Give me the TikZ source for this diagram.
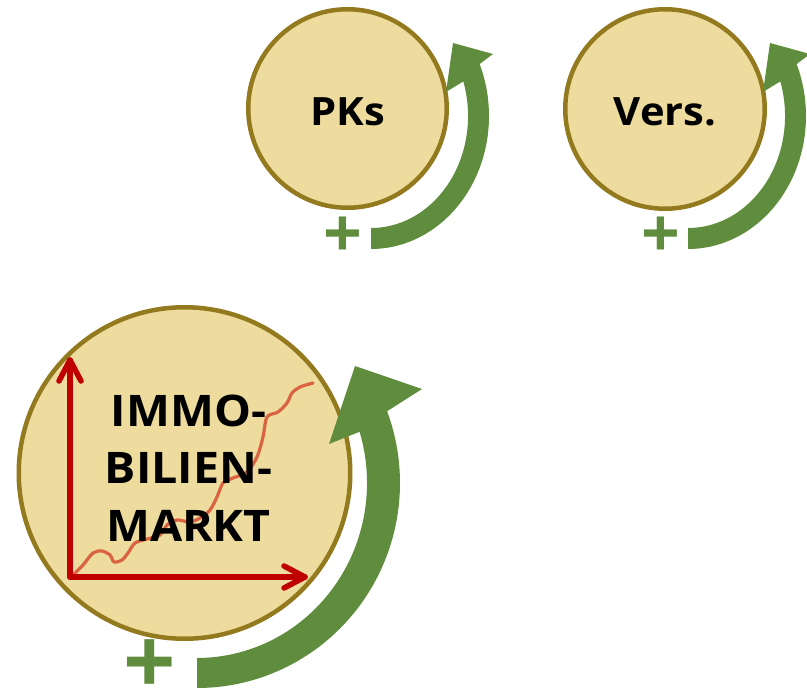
\documentclass[tikz,border=0pt]{standalone}
\usepackage{fontspec}
\setmainfont{Open Sans}
\newfontfamily\labelfont{Open Sans}[FakeStretch=1.07]
\definecolor{cfill}{HTML}{EEDC9E}
\definecolor{cline}{HTML}{937A1F}
\definecolor{cgreen}{HTML}{5F8D3D}
\definecolor{cred}{HTML}{C00000}
\definecolor{ccurve}{HTML}{DA6341}
\tikzset{
  bubble/.style={circle, draw=cline, fill=cfill, line width=4.5pt, inner sep=0pt,
    font=\labelfont\bfseries\fontsize{39}{44}\selectfont, text height=33pt, text depth=0pt},
  plussign/.style={text=cgreen, inner sep=0pt, font=\bfseries\fontsize{68}{70}\selectfont},
  axisline/.style={draw=cred, line width=5.5pt, line cap=round, line join=round},
  trend/.style={draw=ccurve, line width=3.2pt, line cap=round, line join=round},
  growth/.style={fill=cgreen},
  bigtext/.style={font=\labelfont\bfseries\fontsize{43.5}{57.5}\selectfont, align=center, inner sep=0pt},
}
\begin{document}
\begin{tikzpicture}[x=1pt,y=-1pt]
\useasboundingbox (0,0) rectangle (807,688);
\clip (0,0) rectangle (807,688);

% circles
\node[bubble, minimum size=198.5pt] (pks) at (347.5,108.5) {PKs};
\node[bubble, minimum size=199.5pt] (vers) at (665,109) {Vers.};
\node[bubble, minimum size=331.5pt] (immo) at (184.5,473) {};

% small growth arrows
\foreach \dx in {0,317}{
  \begin{scope}[xshift=\dx pt]
  \fill[growth] (371,249) arc[start angle=90,end angle=-23,x radius=118,y radius=133]
    -- (493,54) -- (453,43) -- (446,92) -- (463.3,81.4)
    arc[start angle=-18,end angle=90,x radius=97,y radius=112] -- cycle;
  \end{scope}
}

% big growth arrow
\fill[growth] (197,688) arc[start angle=90,end angle=-20.5,x radius=203,y radius=205]
  -- (422,389) -- (355,366) -- (329,444) -- (359.6,431.8)
  arc[start angle=-17,end angle=90,x radius=170,y radius=175] -- cycle;

% chart
\draw[trend] plot[smooth, tension=0.5] coordinates {(72,576) (83,565) (93,553) (102,551) (110,555) (114,562) (122,560) (128,553) (135,543) (147,539) (160,535) (167,525) (177,520) (190,522) (200,518) (210,510) (217,497) (223,483) (233,478) (247,472) (257,457) (263,437) (267,417) (278,412) (287,403) (292,393) (300,387) (313,383)};
\draw[axisline] (70,577) -- (70,360);
\draw[axisline] (59,381) -- (70,360) -- (81,381);
\draw[axisline] (70,577) -- (305,577);
\draw[axisline] (284,566) -- (305,577) -- (284,588);

\node[bigtext] (immotext) at (188.5,468) {IMMO-\\BILIEN-\\MARKT};

% plus signs
\node[plussign] (plusa) at (343,237) {+};
\node[plussign] (plusb) at (661,237) {+};
\node[plussign, font=\bfseries\fontsize{92}{94}\selectfont] (plusc) at (150,667) {+};
\end{tikzpicture}
\end{document}
